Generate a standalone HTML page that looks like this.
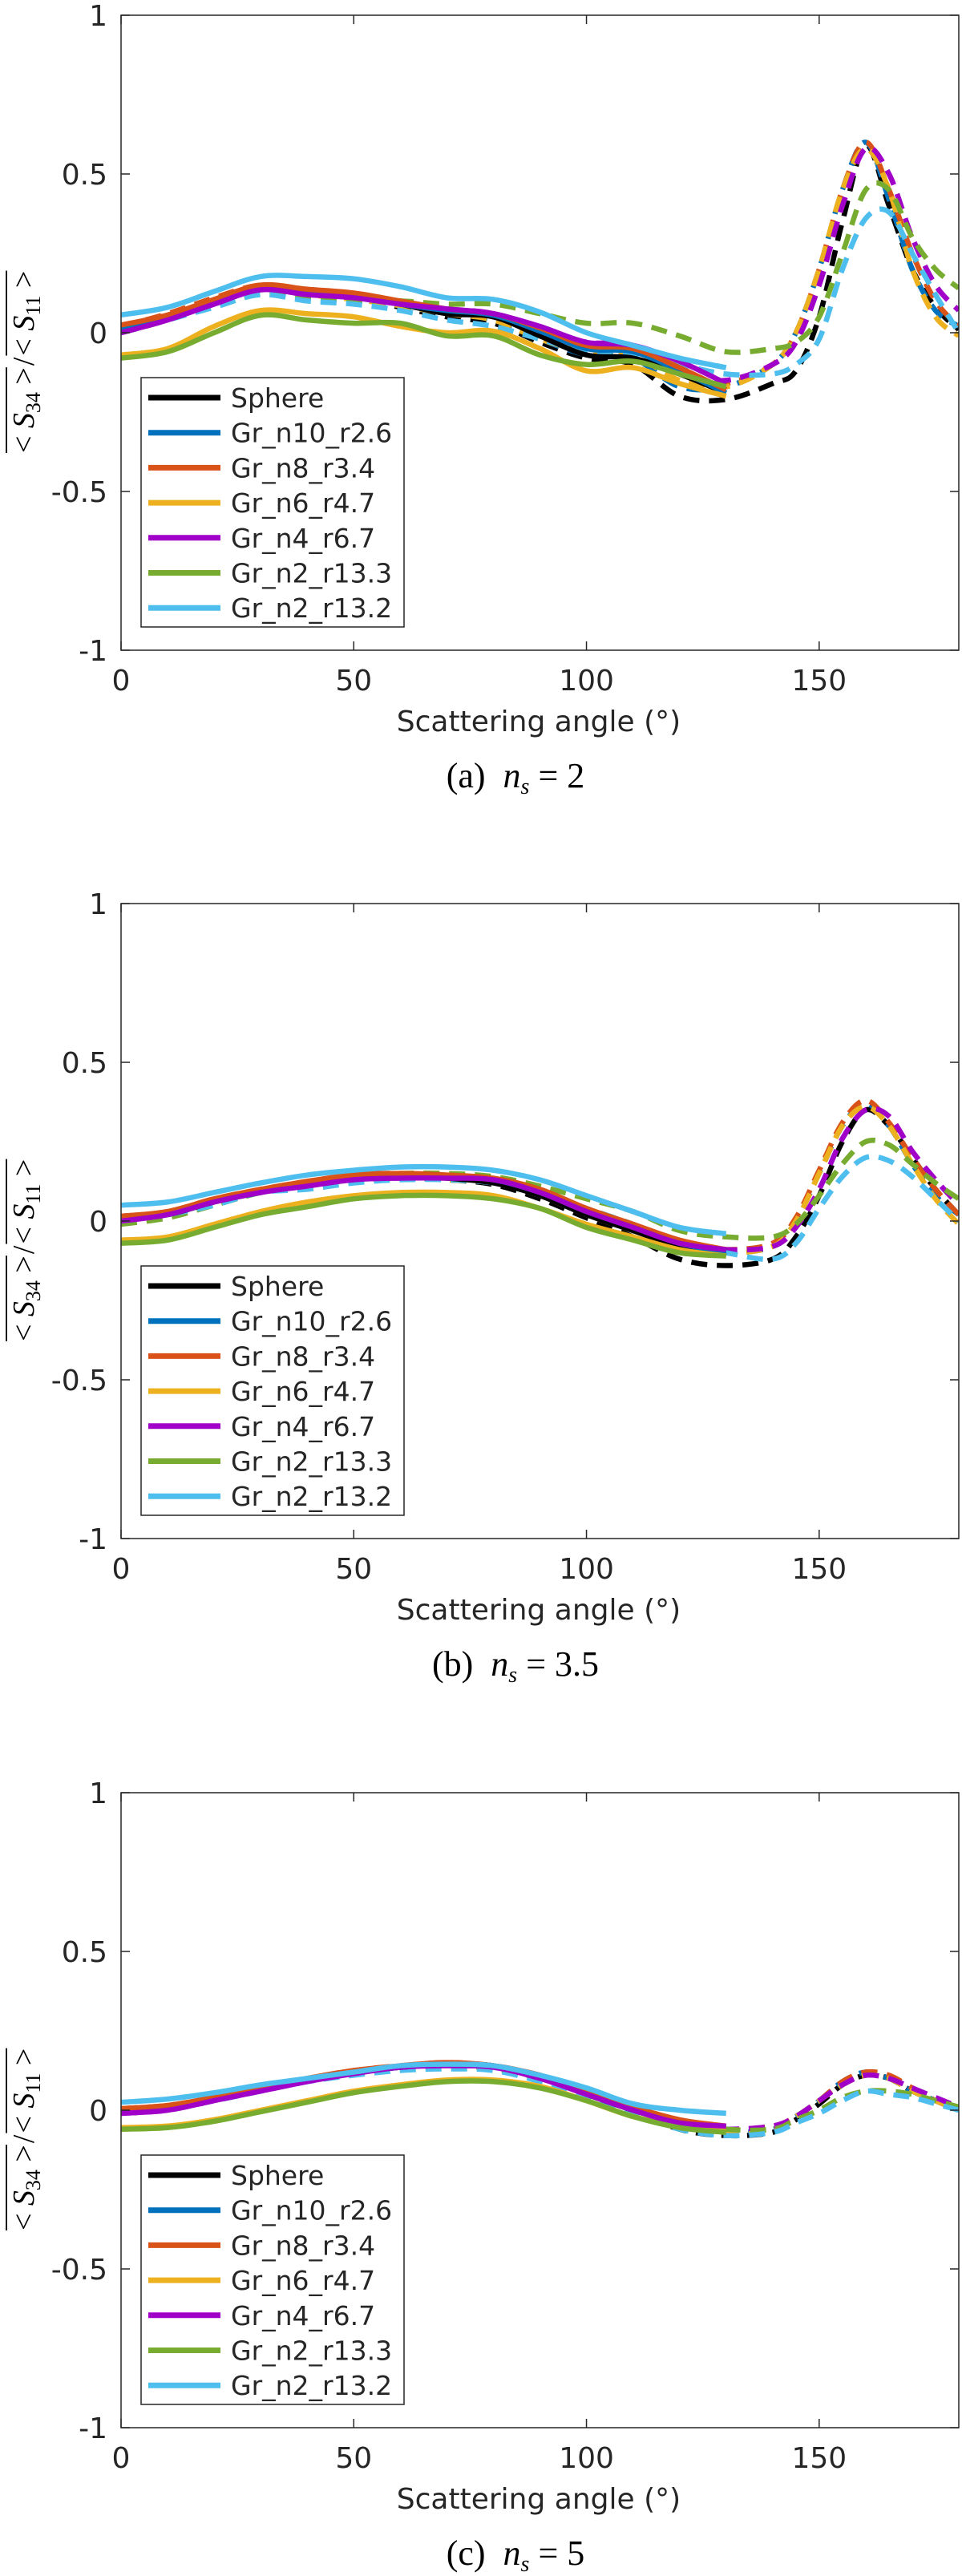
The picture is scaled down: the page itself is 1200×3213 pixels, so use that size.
<!DOCTYPE html>
<html><head><meta charset="utf-8"><style>
html,body{margin:0;padding:0;background:#fff}
svg{display:block}
text{font-family:"DejaVu Sans","Liberation Sans",sans-serif;fill:#262626}
.cap{font-family:"Liberation Serif",serif;fill:#000}
</style></head><body>
<svg id="fig" width="1200" height="3213" viewBox="0 0 1200 3213" xmlns="http://www.w3.org/2000/svg"></svg>
<script>
const seriesNames = ["Sphere","Gr_n10_r2.6","Gr_n8_r3.4","Gr_n6_r4.7","Gr_n4_r6.7","Gr_n2_r13.3","Gr_n2_r13.2"];
const seriesColors = ["#000000","#0072BD","#D95319","#EDB120","#A000C8","#77AC30","#4DBEEE"];
const solidX = [0,10,20,30,40,50,60,70,80,90,100,110,120,130];
const dashX = [0,10,20,30,40,50,60,70,80,90,100,110,120,130,140,145,150,155,160,165,170,175,180];
const xTicks = [0,50,100,150];
const yTicks = [-1,-0.5,0,0.5,1];
const yTickLabels = ["-1","-0.5","0","0.5","1"];
const captions = ["(a)","(b)","(c)"];
const nsValues = ["2","3.5","5"];
// Panel (a) n_s = 2
const a_solid = [
 [.005,.05,.1,.145,.13,.115,.09,.06,.05,-.01,-.07,-.08,-.13,-.19],
 [.01,.05,.1,.14,.125,.115,.09,.07,.055,.005,-.05,-.06,-.12,-.19],
 [.024,.056,.105,.15,.137,.125,.1,.075,.06,.015,-.04,-.05,-.11,-.18],
 [-.07,-.05,.02,.07,.06,.05,.02,0,.005,-.05,-.12,-.11,-.16,-.2],
 [0,.04,.09,.135,.12,.11,.09,.075,.06,.02,-.03,-.04,-.09,-.16],
 [-.08,-.06,0,.055,.04,.03,.03,-.01,-.01,-.07,-.1,-.09,-.13,-.17],
 [.056,.08,.13,.177,.177,.17,.145,.11,.105,.065,0,-.04,-.08,-.11]];
const a_dash = [
 [0,.05,.1,.14,.13,.11,.08,.05,.03,-.03,-.08,-.1,-.2,-.21,-.16,-.12,.05,.35,.59,.4,.2,.08,.01],
 [.005,.05,.1,.14,.125,.11,.085,.06,.04,-.02,-.07,-.08,-.17,-.17,-.1,0,.2,.45,.6,.42,.2,.07,.02],
 [.02,.06,.11,.15,.135,.12,.095,.07,.05,-.01,-.06,-.07,-.15,-.16,-.1,0,.2,.45,.6,.45,.25,.1,.02],
 [0,.05,.1,.14,.12,.105,.085,.06,.04,-.02,-.06,-.07,-.15,-.17,-.1,0,.2,.45,.58,.45,.2,.05,-.01],
 [0,.04,.09,.135,.12,.11,.09,.075,.06,.01,-.03,-.04,-.13,-.15,-.1,-.03,.15,.4,.58,.5,.3,.15,.07],
 [0,.04,.09,.12,.11,.1,.1,.09,.09,.06,.03,.03,-.01,-.06,-.05,-.03,.05,.25,.45,.45,.3,.2,.14],
 [0,.04,.08,.12,.1,.09,.07,.04,.02,-.02,-.06,-.07,-.1,-.13,-.13,-.1,-.02,.2,.36,.38,.25,.12,0]];
// Panel (b) n_s = 3.5
const b_solid = [
 [.005,.02,.06,.09,.115,.135,.14,.135,.12,.08,.02,-.03,-.08,-.11],
 [.01,.025,.065,.095,.12,.14,.145,.14,.13,.09,.03,-.02,-.07,-.1],
 [.015,.03,.07,.1,.125,.145,.15,.145,.135,.1,.04,-.01,-.06,-.09],
 [-.06,-.05,-.01,.03,.06,.08,.09,.09,.08,.04,-.01,-.05,-.09,-.11],
 [0,.02,.06,.09,.11,.13,.135,.135,.13,.09,.03,-.02,-.07,-.09],
 [-.07,-.06,-.02,.02,.045,.07,.08,.08,.07,.04,-.02,-.06,-.1,-.11],
 [.05,.06,.09,.12,.145,.16,.17,.17,.16,.13,.08,.03,-.02,-.04]];
const b_dash = [
 [0,.02,.06,.09,.12,.13,.135,.13,.115,.07,.01,-.05,-.12,-.14,-.12,-.05,.08,.25,.35,.3,.2,.1,.02],
 [.01,.03,.06,.1,.12,.14,.14,.13,.12,.08,.02,-.03,-.08,-.1,-.08,0,.15,.3,.37,.3,.18,.08,.02],
 [.015,.03,.07,.1,.125,.145,.15,.14,.13,.09,.03,-.02,-.07,-.09,-.07,.01,.16,.31,.38,.31,.2,.1,.02],
 [0,.02,.06,.09,.12,.14,.14,.13,.12,.08,.02,-.03,-.08,-.1,-.08,0,.15,.3,.36,.3,.18,.07,-.01],
 [0,.02,.06,.09,.11,.13,.135,.135,.13,.09,.03,-.02,-.07,-.09,-.08,-.02,.1,.26,.35,.33,.22,.13,.05],
 [-.01,.01,.05,.09,.12,.14,.15,.15,.14,.11,.07,.03,-.03,-.05,-.05,-.01,.08,.18,.25,.24,.18,.12,.07],
 [0,.02,.05,.09,.1,.12,.13,.13,.12,.09,.04,-.01,-.07,-.1,-.12,-.07,.04,.14,.2,.19,.14,.07,0]];
// Panel (c) n_s = 5
const c_solid = [
 [0,.01,.035,.065,.095,.12,.135,.145,.14,.105,.05,0,-.04,-.06],
 [0,.01,.035,.065,.095,.12,.135,.145,.14,.105,.055,.005,-.035,-.055],
 [.005,.015,.04,.07,.1,.125,.14,.15,.14,.11,.06,.01,-.03,-.05],
 [-.055,-.05,-.03,0,.03,.06,.08,.095,.095,.075,.03,-.02,-.05,-.06],
 [-.01,0,.03,.06,.09,.115,.135,.14,.135,.1,.05,0,-.04,-.05],
 [-.06,-.055,-.035,-.005,.025,.055,.075,.09,.09,.07,.03,-.02,-.055,-.07],
 [.025,.035,.055,.08,.1,.12,.14,.145,.14,.11,.07,.02,0,-.01]];
const c_dash = [
 [0,.01,.035,.065,.095,.12,.135,.145,.14,.105,.05,0,-.06,-.08,-.07,-.03,.02,.08,.11,.1,.06,.03,0],
 [0,.01,.035,.065,.095,.12,.135,.145,.14,.105,.055,.005,-.05,-.07,-.06,-.02,.03,.09,.12,.1,.06,.03,0],
 [.005,.015,.04,.07,.1,.125,.14,.15,.14,.11,.06,.01,-.04,-.06,-.05,-.02,.03,.09,.12,.11,.07,.03,0],
 [0,.01,.035,.065,.095,.12,.135,.14,.135,.1,.05,0,-.05,-.07,-.06,-.02,.03,.08,.11,.1,.06,.03,0],
 [-.01,0,.03,.06,.09,.115,.135,.14,.135,.1,.05,0,-.05,-.06,-.05,-.02,.03,.08,.11,.1,.07,.04,.01],
 [0,.01,.04,.07,.1,.12,.135,.14,.13,.1,.06,.01,-.04,-.06,-.06,-.03,0,.04,.06,.06,.05,.03,.01],
 [-.005,.005,.03,.06,.09,.11,.125,.13,.125,.09,.04,-.01,-.06,-.08,-.07,-.04,-.01,.03,.06,.05,.04,.02,0]];
const panelSolid = [a_solid,b_solid,c_solid];
const panelDash = [a_dash,b_dash,c_dash];

const NS="http://www.w3.org/2000/svg";
const svg=document.getElementById('fig');
function mk(tag,attrs,parent){const e=document.createElementNS(NS,tag);for(const k in attrs)e.setAttribute(k,attrs[k]);(parent||svg).appendChild(e);return e;}
const X0=151,X1=1196,panelTops=[19,1127,2236],AH=792;
function xs(v){return X0+(v/180)*(X1-X0);}
function ysF(T){return v=>T+AH*(1-v)/2;}
function smooth(pts){let d=`M${pts[0][0]},${pts[0][1]}`;for(let i=0;i<pts.length-1;i++){const p0=pts[Math.max(0,i-1)],p1=pts[i],p2=pts[i+1],p3=pts[Math.min(pts.length-1,i+2)];const c1x=p1[0]+(p2[0]-p0[0])/6,c1y=p1[1]+(p2[1]-p0[1])/6,c2x=p2[0]-(p3[0]-p1[0])/6,c2y=p2[1]-(p3[1]-p1[1])/6;d+=` C${c1x},${c1y} ${c2x},${c2y} ${p2[0]},${p2[1]}`;}return d;}

panelTops.forEach((T,pi)=>{
  const ys=ysF(T);
  const g=mk('g',{});
  
  
  const clipId='clip'+pi;
  const cp=mk('clipPath',{id:clipId},g);mk('rect',{x:X0,y:T,width:X1-X0,height:AH},cp);
  const plot=mk('g',{'clip-path':`url(#${clipId})`},g);
  for(let s=0;s<7;s++){
    const d=mk('path',{d:smooth(dashX.map((x,i)=>[xs(x),ys(panelDash[pi][s][i])])),fill:'none',stroke:seriesColors[s],'stroke-width':6.5,'stroke-dasharray':'20 12'},plot);
    
    
  }
  for(let s=0;s<7;s++){
    const p=mk('path',{d:smooth(solidX.map((x,i)=>[xs(x),ys(panelSolid[pi][s][i])])),fill:'none',stroke:seriesColors[s],'stroke-width':6.5},plot);
    
    
  }
  const box=mk('rect',{x:X0,y:T,width:X1-X0,height:AH,fill:'none',stroke:'#262626','stroke-width':1.5},g);
  
  
  xTicks.forEach(t=>{
    mk('line',{x1:xs(t),x2:xs(t),y1:T+AH,y2:T+AH-11,stroke:'#262626','stroke-width':1.5},g);
    mk('line',{x1:xs(t),x2:xs(t),y1:T,y2:T+11,stroke:'#262626','stroke-width':1.5},g);
    const tx=mk('text',{x:xs(t),y:T+842,'text-anchor':'middle','font-size':36},g);tx.textContent=t;
    
    
  });
  yTicks.forEach((t,i)=>{
    mk('line',{x1:X0,x2:X0+11,y1:ys(t),y2:ys(t),stroke:'#262626','stroke-width':1.5},g);
    mk('line',{x1:X1,x2:X1-11,y1:ys(t),y2:ys(t),stroke:'#262626','stroke-width':1.5},g);
    const ty=mk('text',{x:134,y:ys(t)+13,'text-anchor':'end','font-size':36},g);ty.textContent=yTickLabels[i];
    
    
  });
  const xl=mk('text',{x:672,y:T+893,'text-anchor':'middle','font-size':36},g);xl.textContent='Scattering angle (°)';
  
  
  // y label: rotated group, overlines drawn as lines
  const yg=mk('g',{transform:`translate(42,${T+396}) rotate(-90)`},g);
  
  
  const parts=[['34',true],['/',false],['11',true]];
  let cx=-150;
  parts.forEach(([sub,isFrac])=>{
    const t=mk('text',{x:cx,y:0,'font-size':38,class:'cap'},yg);
    if(isFrac){
      t.innerHTML='&lt; <tspan font-style="italic">S</tspan><tspan font-size="26" dy="8">'+sub+'</tspan><tspan dy="-8"> &gt;</tspan>';
    } else { t.textContent='/'; }
    const w=t.getComputedTextLength();
    if(isFrac) mk('line',{x1:cx,x2:cx+w,y1:-34,y2:-34,stroke:'#000','stroke-width':1.8},yg);
    cx+=w+2;
  });
  // legend
  const lg=mk('g',{},g);
  
  
  mk('rect',{x:176,y:T+452,width:328,height:311,fill:'#fff',stroke:'#262626','stroke-width':1.5},lg);
  seriesNames.forEach((n,s)=>{
    const ey=T+477+s*43.7;
    const e=mk('g',{},lg);
    
    
    mk('line',{x1:185,x2:275,y1:ey,y2:ey,stroke:seriesColors[s],'stroke-width':7},e);
    const t=mk('text',{x:288,y:ey+12,'font-size':33,fill:'#000'},e);t.textContent=n;
  });
  const c=mk('text',{x:643,y:T+963,'text-anchor':'middle','font-size':44,class:'cap'},g);
  
  
  c.innerHTML=captions[pi]+'\u00a0\u00a0<tspan font-style="italic">n</tspan><tspan font-style="italic" font-size="28" dy="8">s</tspan><tspan dy="-8"> = '+nsValues[pi]+'</tspan>';
});
</script>
</body></html>
